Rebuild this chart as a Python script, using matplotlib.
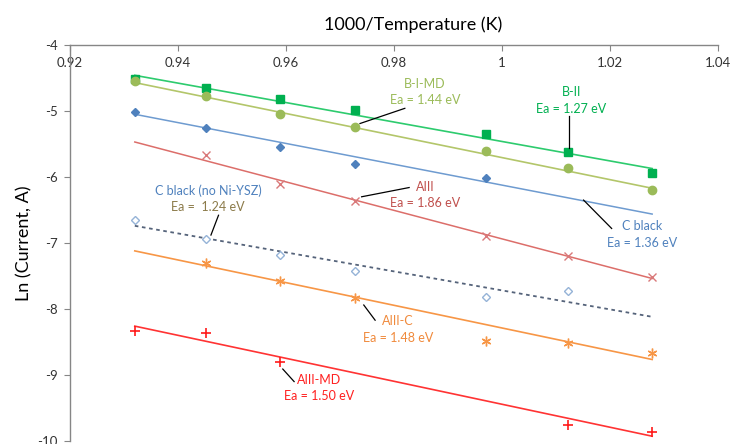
import numpy as np
import matplotlib
matplotlib.use("Agg")
import matplotlib.pyplot as plt
from matplotlib.ticker import FuncFormatter, MultipleLocator

plt.rcParams['font.family'] = ['Lato', 'DejaVu Sans']

# 1000/T for the seven furnace temperatures
inv_t = [0.9320, 0.9452, 0.9588, 0.9728, 0.9970, 1.0122, 1.0278]

# ln(current) per sample, None where no reading
b_ii = [-4.51, -4.65, -4.82, -4.98, -5.35, -5.62, -5.94]
b_i_md = [-4.54, -4.77, -5.05, -5.25, -5.60, -5.87, -6.19]
c_black = [-5.01, -5.26, -5.54, -5.81, -6.01, None, None]
aiii = [None, -5.66, -6.11, -6.37, -6.89, -7.20, -7.51]
c_black_noni = [-6.65, -6.94, -7.18, -7.42, -7.82, -7.73, None]
aiii_c = [None, -7.31, -7.57, -7.83, -8.48, -8.51, -8.66]
aiii_md = [-8.33, -8.36, -8.81, None, None, -9.76, -9.86]

# activation energies (eV) and trendline value at the first temperature
ea = [1.27, 1.44, 1.36, 1.86, 1.24, 1.48, 1.50]
fit_start = [-4.46, -4.57, -5.05, -5.47, -6.74, -7.12, -8.26]

names = ['B-II', 'B-I-MD', 'C black', 'AIII', 'C black (no Ni-YSZ)', 'AIII-C', 'AIII-MD']
K_B = 8.617e-5

series = [b_ii, b_i_md, c_black, aiii, c_black_noni, aiii_c, aiii_md]
marker_style = [
    dict(marker='s', ms=6, mfc='#00B050', mec='#00B050'),
    dict(marker='o', ms=6, mfc='#9BBB59', mec='#9BBB59'),
    dict(marker='D', ms=4.5, mfc='#4F81BD', mec='#4F81BD'),
    dict(marker='x', ms=6, mfc='none', mec='#D9797A', mew=1.0),
    dict(marker='D', ms=4.5, mfc='white', mec='#95B3D7', mew=1.0),
    dict(marker=(6, 2, 0), ms=7, mfc='none', mec='#F79646', mew=1.0),
    dict(marker='+', ms=7, mfc='none', mec='#FF1A1A', mew=1.2),
]
line_style = [
    dict(color='#2DCB6E', lw=1.2, ls='-'),
    dict(color='#B3C66A', lw=1.2, ls='-'),
    dict(color='#6E9BD0', lw=1.1, ls='-'),
    dict(color='#DC6E6A', lw=1.1, ls='-'),
    dict(color='#55637A', lw=1.3, ls=(0, (2, 2))),
    dict(color='#F79646', lw=1.2, ls='-'),
    dict(color='#FF3333', lw=1.2, ls='-'),
]

fig = plt.figure(figsize=(7.30, 4.44), dpi=100)
ax = fig.add_axes([0.0959, 0.0068, 0.8877, 0.8919])

x = np.array(inv_t)
x_fit = np.array([x[0], x[-1]])
for ys, e, y0, ms, ls in zip(series, ea, fit_start, marker_style, line_style):
    slope = -e / (K_B * 1000)
    ax.plot(x_fit, y0 + slope * (x_fit - x[0]), zorder=2, **ls)
    y = np.array([np.nan if v is None else v for v in ys])
    ax.plot(x, y, ls='none', zorder=3, **ms)

# labels with leader lines: (text, color(s), text pos, line start, line end)
notes = [
    (['B-I-MD', 'Ea = 1.44 eV'], ['#9BBB59', '#9BBB59'], (0.9857, -4.71), (0.9820, -4.96), (0.9737, -5.19)),
    (['B-II', 'Ea = 1.27 eV'], ['#00B050', '#00B050'], (1.0128, -4.845), (1.0124, -5.08), (1.0124, -5.56)),
    (['AIII', 'Ea = 1.86 eV'], ['#C0504D', '#C0504D'], (0.9857, -6.27), (0.9828, -6.16), (0.9740, -6.30)),
    (['C black', 'Ea = 1.36 eV'], ['#4F81BD', '#4F81BD'], (1.0259, -6.875), (1.0203, -6.78), (1.0151, -6.35)),
    (['C black (no Ni-YSZ)', 'Ea =  1.24 eV'], ['#4F81BD', '#8C7B4A'], (0.9456, -6.335), (0.9475, -6.58), (0.9461, -6.88)),
    (['AIII-C', 'Ea = 1.48 eV'], ['#F08A3C', '#F08A3C'], (0.9807, -8.31), (0.9744, -7.94), (0.9765, -8.17)),
    (['AIII-MD', 'Ea = 1.50 eV'], ['#FF2020', '#FF2020'], (0.9661, -9.20), (0.9594, -8.91), (0.9615, -9.10)),
]
for lines, colors, (tx, ty), p0, p1 in notes:
    ax.plot([p0[0], p1[0]], [p0[1], p1[1]], color='black', lw=0.9, zorder=4)
    ax.text(tx, ty + 0.125, lines[0], color=colors[0], fontsize=9, ha='center', va='center')
    ax.text(tx, ty - 0.125, lines[1], color=colors[1], fontsize=9, ha='center', va='center')

ax.set_xlim(0.92, 1.04)
ax.set_ylim(-10, -4)
ax.xaxis.set_major_locator(MultipleLocator(0.02))
ax.yaxis.set_major_locator(MultipleLocator(1))
ax.xaxis.set_major_formatter(FuncFormatter(lambda v, p: f'{v:g}'))
ax.yaxis.set_major_formatter(FuncFormatter(lambda v, p: f'{v:g}'))

for side in ['right', 'bottom']:
    ax.spines[side].set_visible(False)
for side in ['left', 'top']:
    ax.spines[side].set_color('#868686')
    ax.spines[side].set_linewidth(1.0)

ax.tick_params(axis='x', top=True, bottom=False, labeltop=True, labelbottom=False,
               direction='in', length=4, color='#868686', pad=-17, labelsize=9.5,
               labelcolor='#333333')
ax.tick_params(axis='y', direction='out', length=4, color='#868686', pad=5,
               labelsize=9.5, labelcolor='#333333')

fig.text(0.566, 0.944, '1000/Temperature (K)', fontsize=13, ha='center', va='center')
fig.text(0.033, 0.453, 'Ln (Current, A)', fontsize=13, rotation=90, ha='center', va='center')

fig.savefig('out.png', dpi=100)
